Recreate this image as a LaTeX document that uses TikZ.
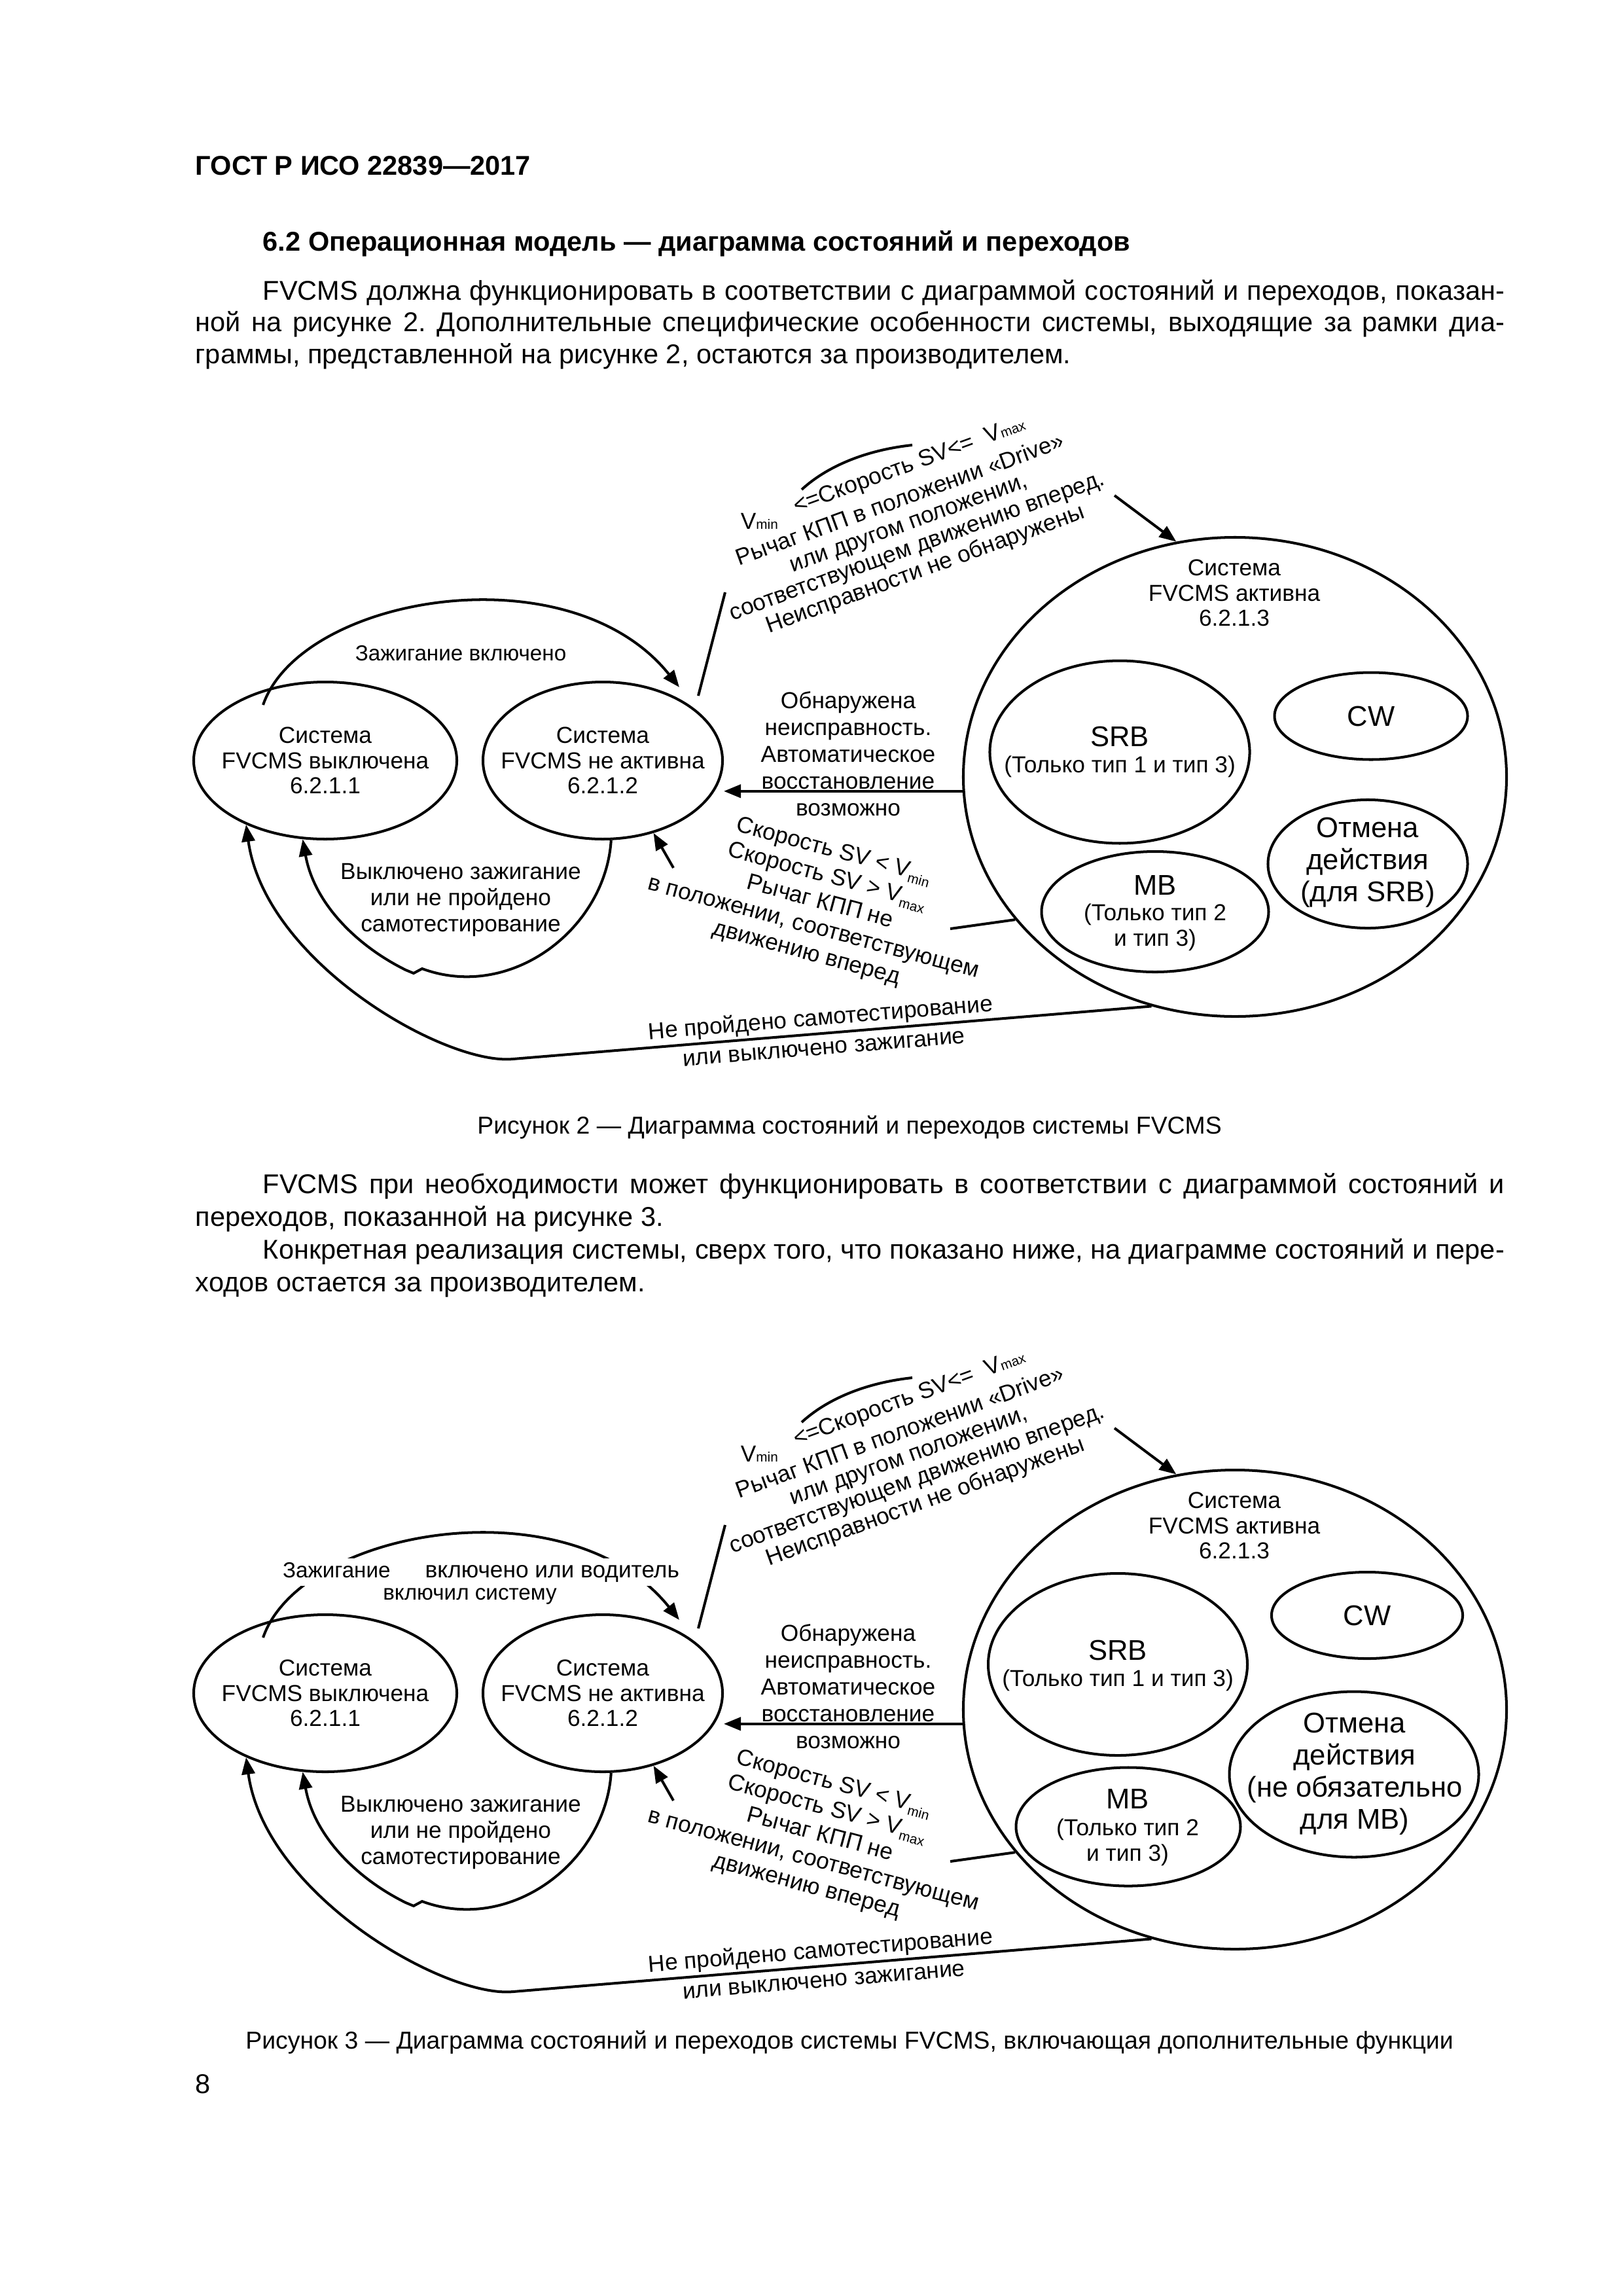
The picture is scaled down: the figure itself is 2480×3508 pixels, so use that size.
\documentclass[tikz,border=0pt]{standalone}
\usepackage{fontspec}
\setmainfont{Liberation Sans}
\usetikzlibrary{shapes.geometric,arrows.meta}
\frenchspacing
\newdimen\pu \pu=0.0846774mm
\newcommand\fbody{\fontsize{10}{12}\selectfont}
\newcommand\fcap{\fontsize{9}{11}\selectfont}
\newcommand\fd{\fontsize{8.5}{9.3}\selectfont}
\newcommand\fdl{\fontsize{8.5}{9.9}\selectfont}
\newcommand\fdm{\fontsize{8.5}{9.75}\selectfont}
\newcommand\fbig{\fontsize{10.5}{11.8}\selectfont}
\newcommand\fsub{\fontsize{5}{5}\selectfont}
\tikzset{
  st/.style={draw, ellipse, line width=0.34mm, inner sep=0pt},
  ln/.style={line width=0.34mm},
  arr/.style={line width=0.34mm, -{Triangle[length=2.2mm,width=1.7mm]}},
  tx/.style={align=center, inner sep=0pt, font=\fd},
  bigl/.style={align=center, inner sep=0pt, font=\fbig},
  bodyl/.style={anchor=base west, inner sep=0pt, font=\fbody},
  capl/.style={anchor=base, inner sep=0pt, font=\fcap},
}
\newcommand\figbase[1]{%
  \node[st, minimum width=34.04mm, minimum height=20.32mm] (A#1) at (497,1162) {};
  \node[tx] (tA#1) at (A#1) {Система\\FVCMS выключена\\6.2.1.1};
  \node[st, minimum width=30.99mm, minimum height=20.32mm] (B#1) at (921,1162) {};
  \node[tx] (tB#1) at (B#1) {Система\\FVCMS не активна\\6.2.1.2};
  \node[st, minimum width=70.28mm, minimum height=61.98mm] (C#1) at (1887,1187) {};
  \node[tx] (tC#1) at (1886,906) {Система\\FVCMS активна\\6.2.1.3};
  % A -> B
  \coordinate (ab1#1) at (402,1077);
  \coordinate (ab2#1) at (1038,1050);
  \draw[arr] (ab1#1) .. controls (460,910) and (870,840) .. (ab2#1);
  % B -> C (broken by label)
  \coordinate (bc1#1) at (1067,1063);
  \coordinate (bc2#1) at (1108,905);
  \draw[ln] (bc1#1) -- (bc2#1);
  \coordinate (bc3#1) at (1225,748);
  \coordinate (bc4#1) at (1394,680);
  \draw[ln] (bc3#1) .. controls (1262,714) and (1320,688) .. (bc4#1);
  \coordinate (bc5#1) at (1703,757);
  \draw[arr] (bc5#1) -- (C#1.104);
  \node[tx, anchor=base west] (vmin#1) at (1131,808) {V{\fsub min}};
  \node[tx, rotate=20] (l1#1) at (1390,712) {<=Скорость SV<=\ \ V{\fsub max}};
  \node[tx, rotate=20, font=\fontsize{8.5}{9}\selectfont] (l2#1) at (1395,818)
     {Рычаг КПП в положении «Drive»\\или другом положении,\\соответствующем движению вперед.\\Неисправности не обнаружены};
  % C -> B
  \draw[arr] (C#1.183) -- (C#1.183 -| B#1.east);
  \node[tx, font=\fdl] (lcb#1) at (1296,1152) {Обнаружена\\неисправность.\\Автоматическое\\восстановление\\возможно};
  % C -> B (conditions)
  \coordinate (lb1#1) at (1029,1326);
  \draw[arr] (lb1#1) -- (B#1.305);
  \node[tx, rotate=-15, font=\fdm] (lcond#1) at (1253,1379)
     {Скорость SV < V\raisebox{-.4ex}{\fsub min}\\Скорость SV > V\raisebox{-.4ex}{\fsub max}\\Рычаг КПП не\\в положении, соответствующем\\движению вперед};
  \coordinate (cl1#1) at (1452,1419);
  \draw[ln] (cl1#1) -- (C#1.213);
  % B -> A
  \draw[arr] (B#1.276) .. controls (925,1420) and (780,1530) .. (645,1480) -- (632,1487) -- (620,1482)
     .. controls (545,1445) and (480,1380) .. (A#1.254);
  \node[tx, font=\fdm] (lba#1) at (704,1375) {Выключено зажигание\\или не пройдено\\самотестирование};
  % C -> A
  \coordinate (bt1#1) at (784,1618);
  \draw[arr] (C#1.250) -- (bt1#1) .. controls (680,1628) and (405,1470) .. (A#1.219);
  \node[tx, rotate=4.7] (lf1#1) at (1254,1557) {Не пройдено самотестирование};
  \node[tx, rotate=4.7] (lf2#1) at (1259,1602) {или выключено зажигание};
}
\begin{document}
\begin{tikzpicture}[x=0.0846774mm, y=-0.0846774mm]
\fill[white] (0,0) rectangle (2480,3508);
\useasboundingbox (0,0) rectangle (2480,3508);
% header and text
\node[bodyl, font=\fbody\bfseries] (hdr) at (298,267) {ГОСТ Р ИСО 22839—2017};
\node[bodyl, font=\fbody\bfseries] (sec) at (401,383) {6.2 Операционная модель — диаграмма состояний и переходов};
\node[bodyl] (p1a) at (401,458) {\makebox[1897\pu][s]{FVCMS должна функционировать в соответствии с диаграммой состояний и переходов, показан-}};
\node[bodyl] (p1b) at (298,506) {\makebox[2000\pu][s]{ной на рисунке 2. Дополнительные специфические особенности системы, выходящие за рамки диа-}};
\node[bodyl] (p1c) at (298,555) {граммы, представленной на рисунке 2, остаются за производителем.};
% figure 2
\figbase{2}
\node[tx, font=\fontsize{8}{9}\selectfont] (lab2) at (704,998) {Зажигание включено};
\node[st, minimum width=33.62mm, minimum height=23.62mm] (srb2) at (1711,1149) {};
\node[bigl] (srbt2) at (1711,1125) {SRB};
\node[tx] (srbs2) at (1711,1171) {(Только тип 1 и тип 3)};
\node[st, minimum width=24.98mm, minimum height=11.26mm] (cw2) at (2095,1094) {};
\node[bigl] (cwt2) at (cw2) {CW};
\node[st, minimum width=25.83mm, minimum height=16.60mm] (ot2) at (2090,1320) {};
\node[bigl] (ott2) at (2090,1318) {Отмена\\действия\\(для SRB)};
\node[st, minimum width=29.38mm, minimum height=15.58mm] (mb2) at (1765,1393) {};
\node[bigl] (mbt2) at (1765,1352) {MB};
\node[tx] (mbs2) at (1765,1417) {(Только тип 2\\и тип 3)};
\node[capl] (cap2) at (1298,1732) {Рисунок 2 — Диаграмма состояний и переходов системы FVCMS};
% text between figures
\node[bodyl] (p2a) at (401,1823) {\makebox[1897\pu][s]{FVCMS при необходимости может функционировать в соответствии с диаграммой состояний и}};
\node[bodyl] (p2b) at (298,1873) {переходов, показанной на рисунке 3.};
\node[bodyl] (p2c) at (401,1923) {\makebox[1897\pu][s]{Конкретная реализация системы, сверх того, что показано ниже, на диаграмме состояний и пере-}};
\node[bodyl] (p2d) at (298,1973) {ходов остается за производителем.};
% figure 3
\begin{scope}[shift={(0,1425)}]
\figbase{3}
\node[tx, anchor=base, fill=white, inner sep=1.5pt, font=\fontsize{8.5}{9}\selectfont] (lab3a) at (735,985) {{\fontsize{8}{9}\selectfont Зажигание}\hspace{4.5mm}включено или водитель};
\node[tx, anchor=base, fill=white, inner sep=1.5pt, font=\fontsize{8}{9}\selectfont] (lab3b) at (718,1019) {включил систему};
\node[st, minimum width=33.53mm, minimum height=23.54mm] (srb3) at (1708,1118) {};
\node[bigl] (srbt3) at (1708,1096) {SRB};
\node[tx] (srbs3) at (1708,1142) {(Только тип 1 и тип 3)};
\node[st, minimum width=24.73mm, minimum height=11.18mm] (cw3) at (2089,1043) {};
\node[bigl] (cwt3) at (cw3) {CW};
\node[st, minimum width=32.26mm, minimum height=21.42mm] (ot3) at (2069,1286) {};
\node[bigl] (ott3) at (2070,1285) {Отмена\\действия\\(не обязательно\\для MB)};
\node[st, minimum width=29.04mm, minimum height=15.33mm] (mb3) at (1724,1366) {};
\node[bigl] (mbt3) at (1723,1323) {MB};
\node[tx] (mbs3) at (1723,1390) {(Только тип 2\\и тип 3)};
\end{scope}
\node[capl] (cap3) at (1298,3130) {Рисунок 3 — Диаграмма состояний и переходов системы FVCMS, включающая дополнительные функции};
\node[bodyl] (pg) at (298,3198) {8};
\end{tikzpicture}
\end{document}
